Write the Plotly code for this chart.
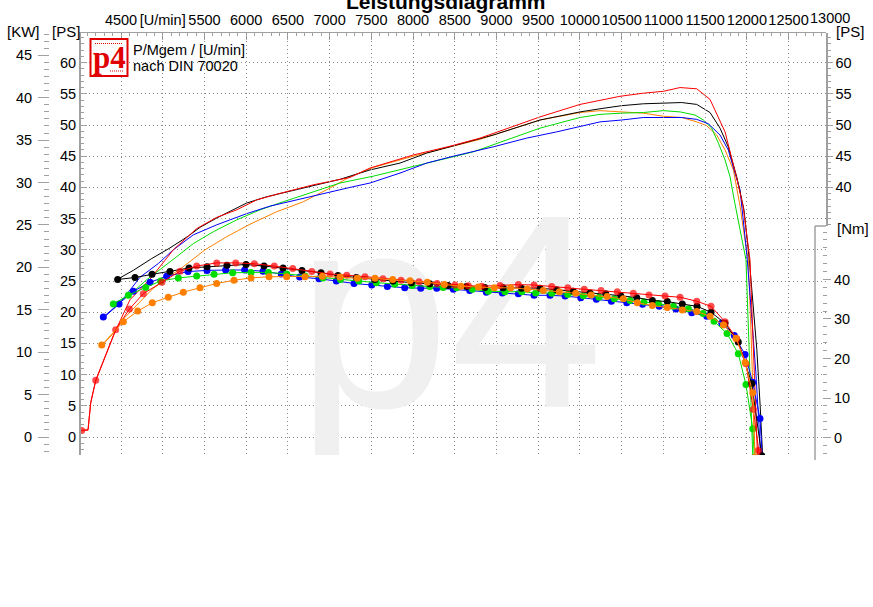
import plotly.graph_objects as go

# ---------------- data ----------------
x_ticks = [4500, 5000, 5500, 6000, 6500, 7000, 7500, 8000, 8500, 9000, 9500,
           10000, 10500, 11000, 11500, 12000, 12500]
x_ticktext = ["4500", "[U/min]", "5500", "6000", "6500", "7000", "7500", "8000", "8500",
              "9000", "9500", "10000", "10500", "11000", "11500", "12000", "12500"]
x_last_label = 13000

# power curves (PS)
red_rpm_p = [4029, 4105, 4137, 4197, 4436, 4608, 4848, 5127, 5407, 5647, 5887, 6126, 6366, 6800,
             7245, 7484, 8004, 8443, 8803, 9082, 9522, 10001, 10480, 10760, 11000, 11200, 11400,
             11559, 11739, 11879, 11955, 12038, 12060, 12090, 12110, 12130]
red_ps = [1.0, 1.1, 5.4, 9.0, 17.1, 22.0, 25.3, 30.0, 33.4, 35.2, 36.4, 38.0, 38.9, 40.4,
          41.6, 43.1, 45.2, 46.6, 47.9, 49.2, 51.3, 53.3, 54.6, 55.1, 55.4, 56.0, 55.8,
          54.1, 48.9, 41.5, 37.0, 28.4, 20.0, 11.0, 4.0, -3.7]

black_rpm_p = [4460, 4647, 4868, 5087, 5307, 5447, 5647, 6007, 6246, 6525, 6845, 7125, 7484, 7844,
               8164, 8643, 8962, 9522, 10001, 10241, 10501, 10760, 11000, 11220, 11400, 11559,
               11679, 11778, 11879, 11966, 12030, 12080, 12120, 12160, 12192]
black_ps = [25.3, 26.7, 28.6, 30.3, 32.2, 33.6, 35.1, 37.5, 38.5, 39.4, 40.4, 41.3, 42.8, 43.9,
            45.5, 47.3, 48.4, 50.8, 52.1, 52.6, 53.1, 53.4, 53.5, 53.6, 53.3, 52.0,
            49.5, 46.5, 41.7, 36.4, 28.4, 21.0, 14.0, 5.0, -3.7]

blue_rpm_p = [4288, 4477, 4728, 4947, 5127, 5367, 5647, 6007, 6286, 6606, 6925, 7245, 7484, 7844,
              8164, 8483, 8962, 9362, 9722, 10001, 10241, 10501, 10760, 11000, 11220, 11400,
              11539, 11679, 11778, 11858, 11919, 11979, 12006, 12060, 12110, 12145, 12168]
blue_ps = [19.1, 21.3, 25.6, 27.8, 30.0, 32.4, 34.0, 35.8, 37.0, 38.0, 39.1, 40.0, 40.7, 42.3,
           43.9, 45.0, 46.5, 47.9, 48.9, 49.7, 50.5, 50.8, 51.2, 51.2, 51.2, 50.9,
           50.2, 48.4, 46.0, 42.3, 39.6, 32.0, 28.4, 19.0, 10.0, 2.0, -3.7]

green_rpm_p = [4408, 4588, 4808, 4988, 5168, 5367, 5607, 5887, 6166, 6445, 6765, 7125, 7524, 7924,
               8243, 8723, 9122, 9522, 10001, 10241, 10501, 10760, 11000, 11200, 11379, 11479,
               11579, 11659, 11739, 11799, 11849, 11919, 11990, 12020, 12050, 12073]
green_ps = [21.3, 22.6, 25.2, 27.0, 28.9, 31.0, 32.9, 34.8, 36.4, 37.7, 39.1, 40.7, 41.8, 43.1,
            44.1, 45.7, 47.6, 49.5, 51.2, 51.7, 51.9, 52.0, 52.3, 52.1, 51.6, 50.8,
            49.5, 47.1, 44.4, 41.7, 38.0, 33.5, 28.4, 17.0, 6.5, -3.7]

orange_rpm_p = [4269, 4400, 4528, 4700, 4875, 5067, 5247, 5507, 5767, 6046, 6366, 6685, 7005, 7245,
                7524, 8004, 8403, 8803, 9522, 10001, 10241, 10501, 10760, 11000, 11220, 11400,
                11519, 11639, 11739, 11839, 11919, 11979, 12018, 12050, 12080, 12099]
orange_ps = [14.6, 16.5, 18.9, 21.3, 23.7, 25.6, 27.3, 30.0, 32.1, 34.1, 36.1, 37.7, 39.9, 41.7,
             43.2, 45.0, 46.3, 47.7, 50.8, 52.0, 52.3, 52.1, 51.9, 51.4, 51.2, 50.5,
             49.9, 48.4, 46.0, 42.8, 37.0, 31.5, 28.4, 17.0, 6.0, -3.7]

# torque curves (Nm)
red_rpm_t = [4029, 4105, 4137, 4197, 4436, 4600, 4767, 4990, 5207, 5407, 5647, 5875, 6098, 6337,
             6558, 6786, 7005, 7205, 7424, 7640, 7856, 8072, 8288, 8503, 8663, 8823, 9042, 9262,
             9450, 9662, 9854, 10052, 10253, 10448, 10640, 10828, 11020, 11200, 11400, 11571,
             11739, 11879, 11990, 12078, 12138, 12160]
red_nm = [1.8, 2.0, 8.9, 14.5, 27.3, 32.5, 36.4, 39.3, 42.1, 43.4, 44.2, 44.2, 44.0, 43.4,
          42.8, 42.0, 41.4, 41.1, 40.7, 40.2, 39.8, 39.4, 39.0, 38.6, 38.4, 38.3, 38.5, 38.7,
          38.6, 38.2, 37.9, 37.5, 37.2, 36.9, 36.5, 36.1, 35.8, 35.5, 34.5, 33.2,
          29.3, 25.0, 18.7, 7.1, -3.3, -6.0]
red_marker = [7, 0, 0, 7, 7, 7, 7, 7, 7, 7, 7, 7, 7, 7, 7, 7, 7, 7, 7, 7, 7, 7, 7, 7, 7, 7, 7, 7,
              7, 7, 7, 7, 7, 7, 7, 7, 7, 7, 7, 7, 7, 7, 7, 7, 7, 0]

black_rpm_t = [4460, 4668, 4872, 5087, 5315, 5531, 5770, 5998, 6214, 6442, 6669, 6897, 7101, 7320,
               7540, 7760, 7980, 8200, 8420, 8640, 8860, 9080, 9300, 9522, 9720, 9920, 10121,
               10309, 10489, 10681, 10868, 11047, 11227, 11403, 11571, 11739, 11898, 12059, 12179]
black_nm = [40.0, 40.5, 41.3, 42.0, 42.9, 43.2, 43.6, 43.8, 43.4, 42.9, 42.3, 41.7, 41.0, 40.5,
            40.0, 39.6, 39.2, 38.9, 38.5, 38.2, 38.0, 37.9, 37.8, 37.8, 37.4, 37.0, 36.6,
            36.4, 35.9, 35.4, 34.7, 34.4, 33.8, 33.2, 31.7, 28.9, 24.2, 13.7, -4.6]

blue_rpm_t = [4288, 4477, 4648, 4848, 5047, 5303, 5531, 5754, 5982, 6202, 6421, 6641, 6873, 7081,
              7293, 7505, 7692, 7900, 8092, 8284, 8483, 8679, 8878, 9070, 9262, 9450, 9642, 9822,
              10010, 10197, 10377, 10561, 10750, 10950, 11150, 11340, 11520, 11700, 11850, 11979,
              12070, 12158, 12185]
blue_nm = [30.5, 33.8, 37.0, 39.3, 40.8, 42.0, 42.3, 42.4, 42.4, 42.1, 41.4, 40.6, 40.2, 39.6,
           39.0, 38.6, 38.2, 37.9, 37.8, 37.8, 37.5, 37.2, 36.8, 36.6, 36.4, 36.0, 36.0, 35.8,
           35.4, 35.0, 34.5, 34.1, 33.7, 33.2, 32.5, 31.6, 30.7, 29.0, 25.8, 21.0,
           14.0, 4.8, -5.0]

green_rpm_t = [4408, 4588, 4796, 4975, 5187, 5407, 5615, 5838, 6058, 6266, 6486, 6706, 6920, 7130,
               7350, 7560, 7780, 7990, 8200, 8360, 8523, 8710, 8902, 9102, 9302, 9470, 9662, 9854,
               10041, 10229, 10412, 10600, 10768, 10940, 11120, 11299, 11475, 11607, 11763, 11898,
               11990, 12071, 12090]
green_nm = [33.8, 36.0, 38.0, 39.6, 40.4, 40.9, 41.3, 41.7, 41.8, 41.8, 41.4, 40.9, 40.4, 40.0,
            39.6, 39.2, 38.8, 38.5, 38.2, 38.0, 37.9, 37.5, 37.0, 36.9, 36.9, 36.6, 36.5, 36.2,
            35.9, 35.5, 35.1, 34.7, 34.3, 33.9, 33.2, 32.6, 31.4, 29.4, 26.3, 21.2,
            13.4, 2.2, -5.0]

orange_rpm_t = [4269, 4528, 4700, 4875, 5067, 5247, 5447, 5647, 5854, 6058, 6274, 6486, 6705, 6913,
                7125, 7332, 7544, 7756, 7964, 8171, 8375, 8575, 8782, 8974, 9170, 9370, 9561, 9753,
                9950, 10133, 10325, 10520, 10688, 10868, 11047, 11227, 11400, 11559, 11720, 11871,
                11980, 12071, 12099]
orange_nm = [23.4, 29.3, 32.0, 34.1, 35.5, 36.8, 37.9, 39.0, 39.8, 40.4, 40.7, 40.7, 40.7, 40.8,
             40.6, 40.3, 40.3, 40.0, 39.7, 39.3, 38.7, 38.3, 38.1, 37.9, 37.9, 37.6, 37.2, 36.9,
             36.5, 36.1, 35.7, 35.1, 34.1, 33.4, 32.9, 32.3, 31.9, 30.7, 28.5, 25.1,
             19.0, 11.3, -5.0]

# ---------------- styling / geometry ----------------
W, H = 873, 607
OFF = 0                 # page margin is removed in the written page
TOP, BOT = 33, 455      # plot area top / bottom in screen pixels
FONT = "Liberation Sans, Arial, sans-serif"
GRID = "#8a8a8a"
AXC = "#a0a0a0"


def fx(p):
    """screen x pixel -> paper fraction"""
    return (p - OFF) / W


def fy(p):
    """screen y pixel -> paper fraction"""
    return (BOT - p) / (BOT - TOP)


COL = {"red": "#ff0000", "black": "#000000", "blue": "#0000ff",
       "green": "#00dd00", "orange": "#ff8000"}

XDOM = [fx(81), fx(826)]
XR = [4020.6, 12949]

fig = go.Figure()

# watermark (clipped to the plot area)
fig.add_trace(go.Scatter(x=[8440], y=[15.9], mode="text", text=["p4"],
                         textfont=dict(size=276, color="#f0f0f0", family=FONT),
                         hoverinfo="skip", showlegend=False))

power = [("orange", orange_rpm_p, orange_ps), ("green", green_rpm_p, green_ps),
         ("blue", blue_rpm_p, blue_ps), ("black", black_rpm_p, black_ps),
         ("red", red_rpm_p, red_ps)]
for c, xs, ys in power:
    fig.add_trace(go.Scatter(x=xs, y=ys, mode="lines", line=dict(color=COL[c], width=1),
                             hoverinfo="skip", showlegend=False, xaxis="x", yaxis="y"))

torque = [("blue", blue_rpm_t, blue_nm, 7), ("green", green_rpm_t, green_nm, 7),
          ("black", black_rpm_t, black_nm, 7), ("red", red_rpm_t, red_nm, red_marker),
          ("orange", orange_rpm_t, orange_nm, 7)]
for c, xs, ys, ms in torque:
    fig.add_trace(go.Scatter(x=xs, y=ys, mode="lines+markers",
                             line=dict(color=COL[c], width=1),
                             marker=dict(color=COL[c], size=ms, line=dict(width=0)),
                             hoverinfo="skip", showlegend=False, xaxis="x2", yaxis="y4"))

# dummy traces so that the secondary axes are drawn
fig.add_trace(go.Scatter(x=[None], y=[None], xaxis="x", yaxis="y2", showlegend=False, hoverinfo="skip"))
fig.add_trace(go.Scatter(x=[None], y=[None], xaxis="x", yaxis="y3", showlegend=False, hoverinfo="skip"))

tickfont = dict(family=FONT, size=14.5, color="#000000")

fig.update_layout(
    width=W, height=H, autosize=False,
    margin=dict(l=0, r=0, t=TOP - OFF, b=H - (BOT - OFF), pad=0),
    paper_bgcolor="white", plot_bgcolor="rgba(0,0,0,0)",
    showlegend=False,
    font=dict(family=FONT, size=14, color="#000"),
    xaxis=dict(domain=XDOM, range=XR, side="top", anchor="y",
               tickmode="array", tickvals=x_ticks, ticktext=x_ticktext, tickangle=0,
               tickfont=tickfont, ticks="inside", ticklen=7, tickcolor=AXC,
               ticklabelstandoff=1,
               minor=dict(ticks="inside", ticklen=3, dtick=100, tick0=0, tickcolor=AXC, showgrid=False),
               showline=True, linecolor=AXC, linewidth=1.5,
               showgrid=True, gridcolor=GRID, griddash="1px,3px", gridwidth=1, zeroline=False),
    xaxis2=dict(domain=XDOM, range=XR, overlaying="x", anchor="y4",
                visible=False, showgrid=False, zeroline=False),
    yaxis=dict(domain=[0, 1], range=[-2.885, 64.744], anchor="x", side="left",
               tickmode="linear", tick0=0, dtick=5, tickfont=tickfont,
               ticks="inside", ticklen=6, tickcolor=AXC,
               minor=dict(ticks="inside", ticklen=3, dtick=1, tick0=0, tickcolor=AXC, showgrid=False),
               showline=True, linecolor=AXC, linewidth=2,
               showgrid=True, gridcolor=GRID, griddash="1px,3px", gridwidth=1, zeroline=False),
    yaxis2=dict(overlaying="y", anchor="free", position=fx(49), side="left",
                range=[-2.122, 47.62], tickmode="linear", tick0=0, dtick=5, tickfont=tickfont,
                ticks="outside", ticklen=11, tickcolor=AXC, ticklabelstandoff=3,
                minor=dict(ticks="outside", ticklen=5, dtick=5 / 6, tick0=0, tickcolor=AXC, showgrid=False),
                showline=False, showgrid=False, zeroline=False),
    yaxis3=dict(domain=[fy(226), 1], range=[(437 - 226) / 6.24, 64.744], anchor="x", side="right",
                tickmode="array", tickvals=[40, 45, 50, 55, 60], tickfont=tickfont,
                ticks="outside", ticklen=5, tickcolor=AXC,
                minor=dict(ticks="outside", ticklen=3, dtick=1, tick0=0, tickcolor=AXC, showgrid=False),
                showline=True, linecolor=AXC, linewidth=1.5, showgrid=False, zeroline=False),
    yaxis4=dict(domain=[0, fy(226)], range=[-4.43, 53.54], anchor="free", position=fx(822),
                side="right", tickmode="array", tickvals=[0, 10, 20, 30, 40], tickfont=tickfont,
                ticks="outside", ticklen=8, tickcolor=AXC,
                minor=dict(ticks="outside", ticklen=4, dtick=2, tick0=0, tickcolor=AXC, showgrid=False),
                showline=False, showgrid=False, zeroline=False),
)

shapes = [
    # Nm axis frame
    dict(type="line", xref="paper", yref="paper", x0=fx(815), x1=fx(815), y0=fy(226), y1=fy(460),
         line=dict(color=AXC, width=1.5)),
    dict(type="line", xref="paper", yref="paper", x0=fx(815), x1=fx(826), y0=fy(226), y1=fy(226),
         line=dict(color=AXC, width=1.5)),
    # logo box
    dict(type="rect", xref="paper", yref="paper", x0=fx(90.5), x1=fx(127.5), y0=fy(76), y1=fy(39),
         line=dict(color="#e00000", width=2), fillcolor="white"),
    dict(type="line", xref="paper", yref="paper", x0=fx(95), x1=fx(123), y0=fy(43.5), y1=fy(43.5),
         line=dict(color="#e00000", width=1, dash="1px,1px")),
    dict(type="line", xref="paper", yref="paper", x0=fx(110), x1=fx(124), y0=fy(71), y1=fy(71),
         line=dict(color="#e00000", width=1, dash="1px,1px")),
]
fig.update_layout(shapes=shapes)


def ann(text, x, y, xanchor="center", size=14, color="#000", bold=False, family=FONT):
    t = f"<b>{text}</b>" if bold else text
    return dict(text=t, x=x, y=y, xref="paper", yref="paper", xanchor=xanchor, yanchor="middle",
                showarrow=False, font=dict(family=family, size=size, color=color))


# paper position of the last (13000) tick label through the x scale
x13 = XDOM[0] + (x_last_label - XR[0]) / (XR[1] - XR[0]) * (XDOM[1] - XDOM[0])

annotations = [
    ann("Leistungsdiagramm", fx(446), fy(2), size=21, bold=True),
    ann(str(x_last_label), x13, fy(18), size=14.5),
    ann("[KW]", fx(5), fy(31), xanchor="left", size=15),
    ann("[PS]", fx(50), fy(31), xanchor="left", size=15),
    ann("[PS]", fx(834), fy(32), xanchor="left", size=15),
    ann("[Nm]", fx(835), fy(228), xanchor="left", size=15),
    ann("P/Mgem / [U/min]", fx(131), fy(50), xanchor="left", size=14.5),
    ann("nach DIN 70020", fx(131), fy(66), xanchor="left", size=14.5),
    ann("p4", fx(109), fy(57), size=31, color="#e00000", bold=True,
        family="Liberation Serif, Times New Roman, serif"),
]
fig.update_layout(annotations=annotations)

fig.write_html("out.html",
               config={"displayModeBar": False, "staticPlot": True},
               post_script="document.body.style.margin='0';document.body.style.padding='0';"
                           "document.documentElement.style.overflow='hidden';")
